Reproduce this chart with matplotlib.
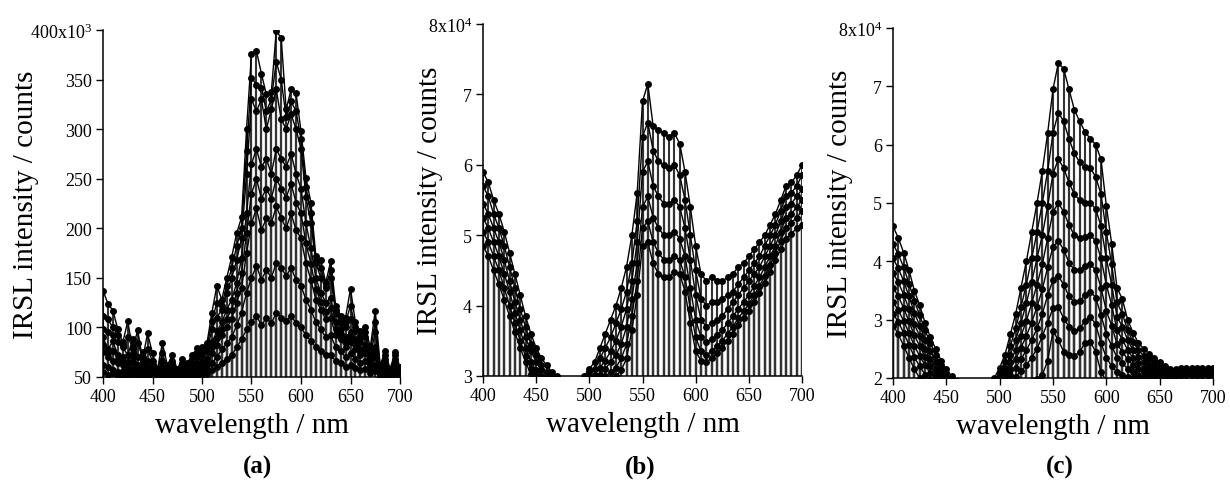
import matplotlib
matplotlib.use("Agg")
import matplotlib.pyplot as plt
import numpy as np

plt.rcParams["font.family"] = ["Liberation Serif", "DejaVu Serif"]
plt.rcParams["mathtext.fontset"] = "custom"
plt.rcParams["mathtext.rm"] = "Liberation Serif"
plt.rcParams["mathtext.default"] = "regular"

# wavelength grid, nm
WAVELENGTH = list(range(400, 701, 5))

# panel (a): intensity in units of 10^3 counts
A_CURVES = [
    [137, 124, 117, 98, 85, 106, 78, 97, 68, 94,
     74, 58, 84, 62, 72, 58, 68, 64, 72, 79,
     80, 84, 115, 142, 128, 150, 171, 195, 211, 300,
     376, 379, 356, 335, 337, 399, 392, 320, 340, 336,
     298, 251, 226, 172, 168, 145, 167, 122, 112, 110,
     139, 105, 96, 100, 80, 117, 62, 76, 58, 75, 60],
    [112, 108, 100, 92, 82, 90, 80, 84, 70, 78,
     66, 56, 74, 58, 66, 57, 64, 60, 68, 74,
     76, 80, 106, 125, 122, 142, 160, 182, 200, 278,
     352, 345, 342, 318, 330, 368, 350, 312, 328, 318,
     290, 242, 215, 168, 160, 142, 158, 118, 108, 105,
     122, 100, 90, 95, 76, 105, 60, 72, 57, 72, 58],
    [98, 95, 92, 85, 80, 72, 88, 70, 75, 66,
     62, 55, 66, 54, 60, 56, 62, 58, 64, 70,
     72, 76, 98, 110, 118, 135, 150, 168, 190, 255,
     330, 318, 330, 300, 320, 340, 310, 300, 315, 300,
     280, 232, 205, 165, 150, 140, 150, 115, 104, 100,
     108, 96, 85, 90, 72, 95, 58, 68, 56, 68, 56],
    [90, 78, 86, 72, 70, 65, 74, 62, 66, 60,
     58, 52, 60, 52, 56, 54, 58, 55, 60, 64,
     66, 68, 85, 96, 105, 118, 128, 145, 170, 215,
     265, 280, 262, 270, 255, 280, 270, 262, 275, 255,
     240, 205, 180, 150, 135, 125, 130, 105, 98, 90,
     95, 88, 78, 82, 66, 80, 56, 62, 54, 62, 55],
    [82, 74, 76, 68, 66, 62, 70, 59, 63, 58,
     56, 51, 58, 51, 54, 53, 56, 53, 58, 62,
     63, 65, 80, 89, 98, 109, 118, 135, 155, 195,
     235, 250, 230, 240, 230, 250, 240, 231, 245, 226,
     215, 185, 164, 139, 126, 116, 120, 98, 93, 85,
     90, 83, 75, 78, 64, 75, 55, 60, 53, 60, 54],
    [75, 70, 66, 64, 62, 58, 65, 56, 60, 55,
     54, 50, 56, 51, 53, 52, 55, 52, 56, 60,
     60, 62, 74, 82, 92, 100, 108, 125, 140, 175,
     205, 220, 198, 210, 205, 222, 210, 200, 215, 198,
     190, 165, 148, 128, 118, 108, 110, 92, 88, 80,
     85, 78, 72, 74, 62, 70, 54, 58, 52, 58, 53],
    [62, 60, 57, 55, 56, 53, 58, 52, 54, 52,
     51, 50, 52, 50, 51, 50, 52, 50, 53, 55,
     55, 57, 64, 70, 78, 84, 90, 102, 115, 135,
     150, 162, 148, 158, 150, 165, 160, 152, 160, 148,
     142, 128, 118, 105, 98, 90, 92, 80, 76, 70,
     74, 68, 64, 66, 58, 62, 52, 55, 51, 54, 52],
    [55, 52, 54, 51, 52, 50, 53, 50, 51, 50,
     50, 50, 50, 50, 50, 50, 50, 50, 51, 52,
     52, 53, 57, 60, 64, 68, 72, 80, 88, 98,
     105, 112, 102, 110, 104, 115, 110, 106, 112, 104,
     100, 92, 86, 80, 76, 72, 72, 66, 64, 60,
     62, 59, 57, 58, 54, 56, 50, 52, 50, 51, 50],
]

# panel (b): intensity in units of 10^4 counts
B_CURVES = [
    [5.90, 5.75, 5.50, 5.30, 5.05, 4.75, 4.45, 4.15, 3.85, 3.60,
     3.40, 3.25, 3.15, 3.05, 3.00, 2.95, 2.90, 2.90, 2.95, 3.00,
     3.10, 3.20, 3.40, 3.60, 3.80, 4.00, 4.25, 4.55, 5.00, 5.60,
     6.90, 7.15, 6.55, 6.50, 6.45, 6.40, 6.45, 6.30, 5.90, 5.40,
     4.85, 4.45, 4.35, 4.40, 4.35, 4.35, 4.40, 4.45, 4.55, 4.60,
     4.70, 4.80, 4.90, 5.00, 5.15, 5.30, 5.50, 5.70, 5.75, 5.85, 6.00],
    [5.70, 5.55, 5.30, 5.10, 4.85, 4.55, 4.25, 3.95, 3.70, 3.45,
     3.30, 3.15, 3.05, 3.00, 2.95, 2.90, 2.85, 2.85, 2.90, 2.95,
     3.05, 3.10, 3.25, 3.40, 3.55, 3.75, 3.95, 4.20, 4.60, 5.20,
     6.40, 6.60, 6.20, 6.05, 6.00, 5.95, 6.00, 5.85, 5.50, 5.00,
     4.50, 4.10, 4.00, 4.05, 4.05, 4.10, 4.15, 4.20, 4.30, 4.40,
     4.50, 4.60, 4.70, 4.85, 5.00, 5.15, 5.35, 5.55, 5.60, 5.70, 5.85],
    [5.45, 5.30, 5.10, 4.90, 4.65, 4.35, 4.05, 3.80, 3.55, 3.35,
     3.20, 3.08, 3.00, 2.95, 2.90, 2.85, 2.80, 2.80, 2.85, 2.90,
     2.98, 3.02, 3.12, 3.22, 3.35, 3.50, 3.70, 3.95, 4.35, 4.90,
     5.90, 6.05, 5.70, 5.55, 5.45, 5.45, 5.50, 5.40, 5.10, 4.65,
     4.15, 3.80, 3.70, 3.75, 3.80, 3.85, 3.95, 4.05, 4.15, 4.25,
     4.35, 4.45, 4.55, 4.70, 4.85, 5.00, 5.20, 5.40, 5.45, 5.55, 5.65],
    [5.25, 5.10, 4.90, 4.70, 4.45, 4.20, 3.90, 3.65, 3.40, 3.20,
     3.08, 3.00, 2.95, 2.90, 2.85, 2.80, 2.75, 2.75, 2.80, 2.85,
     2.92, 2.95, 3.02, 3.10, 3.20, 3.30, 3.45, 3.70, 4.10, 4.60,
     5.40, 5.55, 5.25, 5.10, 5.00, 5.00, 5.05, 4.95, 4.70, 4.25,
     3.80, 3.55, 3.48, 3.52, 3.58, 3.65, 3.75, 3.85, 3.95, 4.05,
     4.15, 4.28, 4.40, 4.55, 4.70, 4.85, 5.05, 5.25, 5.30, 5.40, 5.50],
    [5.05, 4.90, 4.70, 4.50, 4.25, 4.00, 3.75, 3.50, 3.28, 3.10,
     3.00, 2.95, 2.90, 2.85, 2.80, 2.75, 2.70, 2.70, 2.75, 2.80,
     2.85, 2.88, 2.93, 3.00, 3.05, 3.12, 3.25, 3.45, 3.85, 4.35,
     5.10, 5.20, 4.90, 4.75, 4.65, 4.65, 4.70, 4.65, 4.40, 3.95,
     3.55, 3.35, 3.30, 3.35, 3.42, 3.50, 3.60, 3.70, 3.82, 3.92,
     4.02, 4.15, 4.28, 4.42, 4.58, 4.75, 4.92, 5.10, 5.18, 5.25, 5.35],
    [4.85, 4.70, 4.50, 4.30, 4.08, 3.85, 3.62, 3.40, 3.20, 3.03,
     2.95, 2.90, 2.85, 2.80, 2.75, 2.70, 2.65, 2.65, 2.70, 2.75,
     2.80, 2.82, 2.86, 2.92, 2.96, 3.00, 3.08, 3.25, 3.65, 4.15,
     4.85, 4.90, 4.60, 4.45, 4.40, 4.40, 4.48, 4.45, 4.20, 3.75,
     3.35, 3.22, 3.20, 3.25, 3.32, 3.40, 3.50, 3.60, 3.72, 3.82,
     3.92, 4.05, 4.18, 4.32, 4.48, 4.65, 4.80, 4.95, 5.02, 5.10, 5.15],
]

# panel (c): intensity in units of 10^4 counts
C_CURVES = [
    [4.60, 4.40, 4.15, 3.85, 3.50, 3.25, 2.95, 2.70, 2.50, 2.30,
     2.15, 2.03, 1.95, 1.90, 1.85, 1.85, 1.85, 1.85, 1.90, 2.00,
     2.18, 2.40, 2.75, 3.10, 3.55, 4.00, 4.50, 5.00, 5.55, 6.20,
     6.95, 7.40, 7.30, 6.95, 6.60, 6.40, 6.22, 6.10, 6.00, 5.75,
     4.95, 4.30, 3.55, 3.35, 3.00, 2.78, 2.60, 2.50, 2.42, 2.35,
     2.27, 2.20, 2.15, 2.15, 2.18, 2.18, 2.18, 2.18, 2.18, 2.18, 2.18],
    [4.30, 4.12, 3.90, 3.62, 3.32, 3.08, 2.82, 2.60, 2.40, 2.22,
     2.08, 1.98, 1.92, 1.88, 1.85, 1.85, 1.85, 1.85, 1.88, 1.95,
     2.10, 2.28, 2.55, 2.85, 3.22, 3.60, 4.05, 4.50, 5.00, 5.55,
     6.20, 6.55, 6.40, 6.10, 5.85, 5.70, 5.62, 5.60, 5.45, 5.15,
     4.50, 3.95, 3.30, 3.10, 2.82, 2.62, 2.48, 2.38, 2.32, 2.26,
     2.20, 2.15, 2.12, 2.12, 2.15, 2.15, 2.15, 2.15, 2.15, 2.15, 2.15],
    [4.05, 3.88, 3.66, 3.40, 3.12, 2.90, 2.66, 2.46, 2.28, 2.12,
     2.00, 1.93, 1.88, 1.85, 1.83, 1.83, 1.83, 1.83, 1.85, 1.92,
     2.05, 2.18, 2.40, 2.65, 2.95, 3.28, 3.65, 4.05, 4.45, 4.95,
     5.50, 5.75, 5.60, 5.35, 5.15, 5.05, 5.00, 5.00, 4.90, 4.60,
     4.05, 3.60, 3.05, 2.88, 2.65, 2.48, 2.36, 2.28, 2.22, 2.18,
     2.14, 2.10, 2.08, 2.10, 2.12, 2.12, 2.12, 2.12, 2.12, 2.12, 2.12],
    [3.80, 3.64, 3.43, 3.18, 2.92, 2.72, 2.50, 2.32, 2.16, 2.04,
     1.95, 1.90, 1.85, 1.83, 1.82, 1.82, 1.82, 1.82, 1.84, 1.90,
     2.00, 2.10, 2.28, 2.48, 2.72, 2.98, 3.28, 3.60, 3.95, 4.40,
     4.85, 5.00, 4.85, 4.62, 4.45, 4.40, 4.42, 4.45, 4.35, 4.05,
     3.60, 3.25, 2.82, 2.66, 2.48, 2.34, 2.25, 2.18, 2.14, 2.10,
     2.08, 2.06, 2.05, 2.08, 2.10, 2.10, 2.10, 2.10, 2.10, 2.10, 2.10],
    [3.55, 3.40, 3.20, 2.97, 2.73, 2.55, 2.36, 2.20, 2.06, 1.96,
     1.90, 1.86, 1.83, 1.82, 1.81, 1.81, 1.81, 1.81, 1.82, 1.86,
     1.95, 2.03, 2.16, 2.32, 2.52, 2.72, 2.95, 3.22, 3.52, 3.90,
     4.25, 4.35, 4.20, 3.98, 3.85, 3.85, 3.92, 3.95, 3.85, 3.55,
     3.15, 2.90, 2.58, 2.45, 2.32, 2.22, 2.15, 2.10, 2.07, 2.05,
     2.04, 2.03, 2.03, 2.06, 2.08, 2.08, 2.08, 2.08, 2.08, 2.08, 2.08],
    [3.30, 3.16, 2.98, 2.77, 2.55, 2.38, 2.22, 2.08, 1.97, 1.90,
     1.86, 1.83, 1.82, 1.81, 1.80, 1.80, 1.80, 1.80, 1.81, 1.84,
     1.90, 1.96, 2.05, 2.18, 2.32, 2.48, 2.65, 2.85, 3.10, 3.42,
     3.68, 3.75, 3.60, 3.40, 3.30, 3.32, 3.42, 3.48, 3.38, 3.08,
     2.75, 2.55, 2.35, 2.25, 2.16, 2.10, 2.05, 2.03, 2.02, 2.02,
     2.02, 2.02, 2.02, 2.05, 2.07, 2.07, 2.07, 2.07, 2.07, 2.07, 2.07],
    [3.10, 2.96, 2.77, 2.57, 2.36, 2.20, 2.06, 1.96, 1.88, 1.84,
     1.82, 1.81, 1.80, 1.80, 1.80, 1.80, 1.80, 1.80, 1.80, 1.82,
     1.85, 1.88, 1.94, 2.02, 2.12, 2.22, 2.35, 2.50, 2.72, 2.95,
     3.20, 3.22, 3.02, 2.88, 2.80, 2.85, 2.98, 3.05, 2.92, 2.60,
     2.35, 2.20, 2.10, 2.05, 2.02, 2.00, 2.00, 2.00, 2.00, 2.00,
     2.00, 2.01, 2.01, 2.04, 2.06, 2.06, 2.06, 2.06, 2.06, 2.06, 2.06],
    [2.90, 2.75, 2.55, 2.35, 2.15, 2.00, 1.90, 1.85, 1.80, 1.80,
     1.80, 1.80, 1.80, 1.80, 1.80, 1.80, 1.80, 1.80, 1.80, 1.80,
     1.80, 1.82, 1.85, 1.88, 1.90, 1.92, 1.95, 1.98, 2.05, 2.30,
     2.80, 2.65, 2.45, 2.40, 2.38, 2.45, 2.60, 2.62, 2.45, 2.10,
     1.95, 1.92, 1.92, 1.93, 1.95, 1.95, 1.97, 1.98, 2.00, 2.00,
     2.00, 2.02, 2.03, 2.05, 2.05, 2.05, 2.05, 2.05, 2.05, 2.05, 2.05],
]

X_TICKS = [400, 450, 500, 550, 600, 650, 700]
A_YTICKS = [50, 100, 150, 200, 250, 300, 350, 400]
A_YLABELS = ["50", "100", "150", "200", "250", "300", "350", "400x10$^3$"]
B_YTICKS = [3, 4, 5, 6, 7, 8]
B_YLABELS = ["3", "4", "5", "6", "7", "8x10$^4$"]
C_YTICKS = [2, 3, 4, 5, 6, 7, 8]
C_YLABELS = ["2", "3", "4", "5", "6", "7", "8x10$^4$"]

W, H = 1230, 485


def px_axes(fig, left, top, right, bottom):
    return fig.add_axes([left / W, 1 - bottom / H, (right - left) / W, (bottom - top) / H])


def draw_panel(ax, curves, base, top, yticks, ylabels, label_dx):
    x = np.asarray(WAVELENGTH, dtype=float)
    for ys in curves:
        ys = np.asarray(ys, dtype=float)
        ax.vlines(x, base, ys, color="0.2", linewidth=1.5, zorder=1)
    for ys in curves:
        ax.plot(x, ys, color="black", linewidth=1.0, marker="o", markersize=5.0,
                markeredgewidth=0, zorder=2)
    ax.set_xlim(400, 700)
    ax.set_ylim(base, top)
    ax.set_xticks(X_TICKS)
    ax.set_yticks(yticks)
    ax.set_yticklabels(ylabels)
    ax.tick_params(direction="out", length=5, width=1.0, labelsize=13, pad=3)
    for side in ("top", "right"):
        ax.spines[side].set_visible(False)
    for side in ("left", "bottom"):
        ax.spines[side].set_linewidth(1.1)
    ax.set_ylabel("IRSL intensity / counts", fontsize=21)
    ax.yaxis.set_label_coords(label_dx, 0.5)
    ax.set_xlabel("wavelength / nm", fontsize=21, labelpad=5)


fig = plt.figure(figsize=(W / 100, H / 100), dpi=100)

ax_a = px_axes(fig, 103, 31, 400, 378)
draw_panel(ax_a, A_CURVES, 50, 400, A_YTICKS, A_YLABELS, -0.215)
ax_b = px_axes(fig, 483, 25, 802, 377)
draw_panel(ax_b, B_CURVES, 3, 8, B_YTICKS, B_YLABELS, -0.125)
ax_c = px_axes(fig, 893, 29, 1213, 379)
draw_panel(ax_c, C_CURVES, 2, 8, C_YTICKS, C_YLABELS, -0.125)

for label, xc in (("(a)", 257), ("(b)", 640), ("(c)", 1060)):
    fig.text(xc / W, 1 - 467 / H, label, ha="center", va="center", fontsize=18, fontweight="bold")

fig.savefig("out.png", dpi=100)
